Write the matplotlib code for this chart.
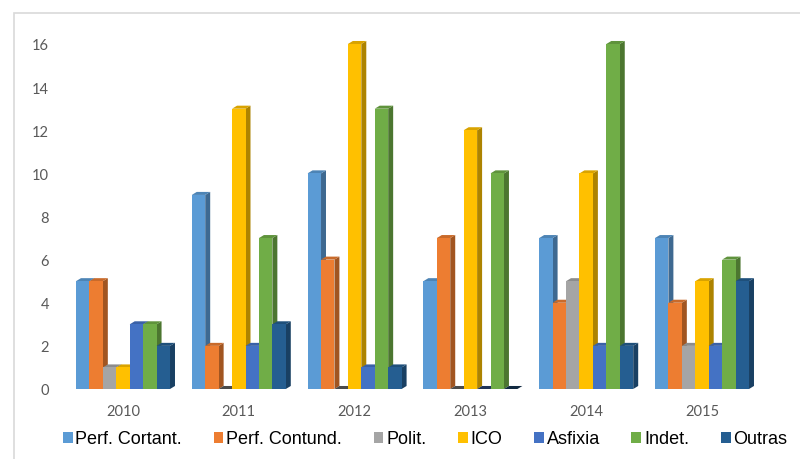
import matplotlib
matplotlib.use('Agg')
import matplotlib.pyplot as plt
from matplotlib.patches import Patch, Rectangle
import matplotlib.colors as mcolors
import numpy as np

# Data
years = ['2010', '2011', '2012', '2013', '2014', '2015']
series = ['Perf. Cortant.', 'Perf. Contund.', 'Polit.', 'ICO', 'Asfixia', 'Indet.', 'Outras']
perf_cortant = [5, 9, 10, 5, 7, 7]
perf_contund = [5, 2, 6, 7, 4, 4]
polit = [1, 0, 0, 0, 5, 2]
ico = [1, 13, 16, 12, 10, 5]
asfixia = [3, 2, 1, 0, 2, 2]
indet = [3, 7, 13, 10, 16, 6]
outras = [2, 3, 1, 0, 2, 5]
values = [perf_cortant, perf_contund, polit, ico, asfixia, indet, outras]

colors = ['#5B9BD5', '#ED7D31', '#A5A5A5', '#FFC000', '#4472C4', '#70AD47', '#255E91']


def shade(c, f):
    r, g, b = mcolors.to_rgb(c)
    return (r * f, g * f, b * f)


fig = plt.figure(figsize=(8, 4.6), dpi=100)

# light frame around the chart area
fig.patches.append(Rectangle((14 / 800, -0.1), 1.0, (460 - 14) / 460 + 0.1,
                             transform=fig.transFigure, fill=False,
                             edgecolor='#D9D9D9', linewidth=1.2))

ax = fig.add_axes([60 / 800, 70 / 460, 730 / 800, 345 / 460])
ax.set_xlim(-0.544, 5.76)
ax.set_ylim(0, 16)

w = 0.116
dx = 0.043
dy = 0.14
n = len(series)
x = np.arange(len(years))

z = 2
for i in range(len(years)):
    for j in range(n):
        v = values[j][i]
        left = x[i] - n * w / 2 + j * w
        c = colors[j]
        # side face
        ax.fill([left + w, left + w + dx, left + w + dx, left + w],
                [0, dy, v + dy, v], color=shade(c, 0.68), zorder=z, lw=0, clip_on=False)
        # top face
        ax.fill([left, left + dx, left + w + dx, left + w],
                [v, v + dy, v + dy, v], color=shade(c, 0.85) if v > 0 else shade(c, 0.45),
                zorder=z + 1, lw=0, clip_on=False)
        # front face
        if v > 0:
            ax.bar(left, v, width=w, align='edge', color=c, zorder=z + 2,
                   lw=0, clip_on=False)
        z += 3

for s in ax.spines.values():
    s.set_visible(False)
ax.set_yticks(range(0, 17, 2))
ax.set_xticks(x)
ax.set_xticklabels(years)
ax.tick_params(axis='both', length=0, labelsize=10.5, colors='#595959')
ax.tick_params(axis='y', pad=8)
ax.tick_params(axis='x', pad=11)
for lab in ax.get_xticklabels() + ax.get_yticklabels():
    lab.set_family(['Lato', 'DejaVu Sans'])

handles = [Patch(facecolor=c, label=s) for c, s in zip(colors, series)]
fig.legend(handles=handles, loc='center', bbox_to_anchor=(425 / 800, 20 / 460),
           ncol=7, frameon=False, handlelength=0.55, handleheight=0.55,
           handletextpad=0.15, columnspacing=1.75,
           prop={'family': ['Liberation Sans Narrow', 'Liberation Sans'], 'size': 13})

fig.savefig('out.png', dpi=100)
